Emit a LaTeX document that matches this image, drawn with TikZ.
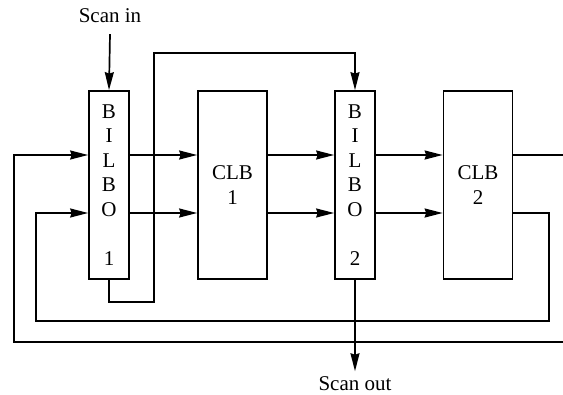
\documentclass[tikz,border=0pt]{standalone}
\usepackage{fontspec}
\setmainfont{Liberation Serif}
\usetikzlibrary{arrows.meta}
\begin{document}
\begin{tikzpicture}[x=1pt,y=-1pt,line width=1.7pt,
  >={Stealth[length=18pt,width=9pt,inset=1.5pt]},
  txt/.style={font=\fontsize{21}{24.5}\selectfont},
  bilbo/.style={draw,txt,minimum width=40pt,minimum height=188pt,inner sep=0pt,align=center},
  clb/.style={draw,txt,minimum width=69pt,minimum height=188pt,inner sep=0pt,align=center}]
\useasboundingbox (0,0) rectangle (563,395);
% blocks
\node[bilbo] (b1) at (109,185) {B\\I\\L\\B\\O\\[24.5pt]1};
\node[clb]   (c1) at (232.5,185) {CLB\\1};
\node[bilbo] (b2) at (355,185) {B\\I\\L\\B\\O\\[24.5pt]2};
\node[clb]   (c2) at (478,185) {CLB\\2};
% labels
\node[txt,inner sep=0pt,anchor=base] (sin) at (110,23) {Scan in};
\node[txt,inner sep=0pt,anchor=base] (sout) at (355,391) {Scan out};
% rows and routing points
\coordinate (r1) at (0,155);
\coordinate (r2) at (0,213);
\coordinate (sb) at (154,302);
\coordinate (st) at (154,53);
\coordinate (oR) at (564,342);
\coordinate (oL) at (14,342);
\coordinate (iR) at (549,321);
\coordinate (iL) at (36,321);
% scan path
\draw[->] ([yshift=-10pt]sin.south) -- (b1.north);
\draw[->] (b1.south) |- (sb) -- (st) -| (b2.north);
\draw[->] (b2.south) -- ([yshift=5pt]sout.north);
% forward data
\draw[->] (b1.east|-r1) -- (c1.west|-r1);
\draw[->] (b1.east|-r2) -- (c1.west|-r2);
\draw[->] (c1.east|-r1) -- (b2.west|-r1);
\draw[->] (c1.east|-r2) -- (b2.west|-r2);
\draw[->] (b2.east|-r1) -- (c2.west|-r1);
\draw[->] (b2.east|-r2) -- (c2.west|-r2);
% feedback
\draw[->] (c2.east|-r1) -| (oR) -- (oL) |- (b1.west|-r1);
\draw[->] (c2.east|-r2) -| (iR) -- (iL) |- (b1.west|-r2);
\end{tikzpicture}
\end{document}
